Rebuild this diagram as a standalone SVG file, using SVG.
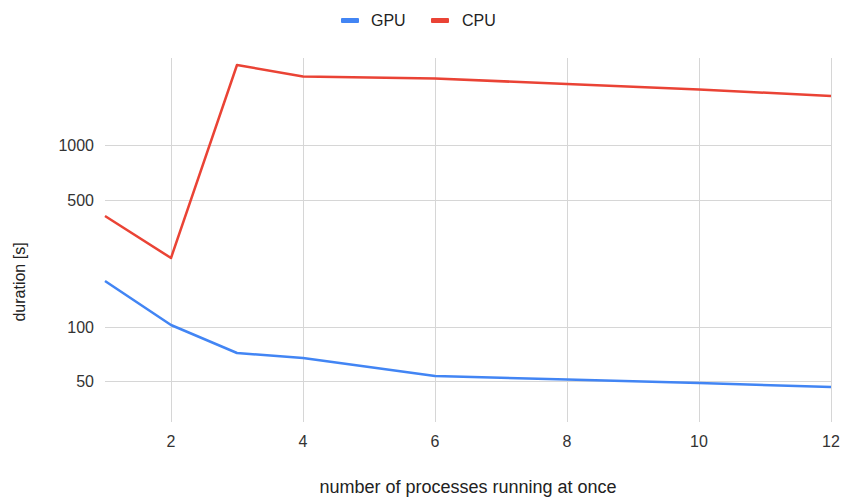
<svg xmlns="http://www.w3.org/2000/svg" width="844" height="497" viewBox="0 0 844 497">
<style>
.grid{stroke:#d6d6d6;stroke-width:1;fill:none}
.lbl{font-family:"Liberation Sans",Arial,sans-serif;font-size:16px;fill:#333}
.ttl{font-family:"Liberation Sans",Arial,sans-serif;font-size:16px;fill:#222}
.gpu{stroke:#4285F4;stroke-width:2.5;fill:none;stroke-linejoin:round}
.cpu{stroke:#EA4335;stroke-width:2.5;fill:none;stroke-linejoin:round}
</style>
<rect width="844" height="497" fill="#fff"/>
<g id="gridlines">
<path class="grid" d="M105 145.5H831M105 200.5H831M105 327.5H831M105 381.5H831"/>
<path class="grid" d="M171.5 58V422M303.5 58V422M435.5 58V422M567.5 58V422M699.5 58V422M831.5 58V422"/>
</g>
<g id="y-ticks" class="lbl" text-anchor="end">
<text x="94" y="151">1000</text>
<text x="94" y="206">500</text>
<text x="94" y="333">100</text>
<text x="94" y="387">50</text>
</g>
<g id="x-ticks" class="lbl" text-anchor="middle">
<text x="171" y="447">2</text>
<text x="303" y="447">4</text>
<text x="435" y="447">6</text>
<text x="567" y="447">8</text>
<text x="699" y="447">10</text>
<text x="831" y="447">12</text>
</g>
<g id="axis-titles" class="ttl" text-anchor="middle">
<text x="468" y="493" style="font-size:18px">number of processes running at once</text>
<text transform="translate(25,282) rotate(-90)">duration [s]</text>
</g>
<g id="series">
<polyline id="cpu" class="cpu" points="105,216 171,258 237,65 303,76.5 435,78.5 567,84 699,89.5 831,96"/>
<polyline id="gpu" class="gpu" points="105,281 171,325 237,353 303,358 435,376 567,379.5 699,383 831,387"/>
</g>
<g id="legend">
<rect x="341" y="18" width="18" height="5" rx="1" fill="#4285F4"/>
<text class="ttl" x="371" y="26">GPU</text>
<rect x="431" y="18" width="18" height="5" rx="1" fill="#EA4335"/>
<text class="ttl" x="462" y="26">CPU</text>
</g>
</svg>
